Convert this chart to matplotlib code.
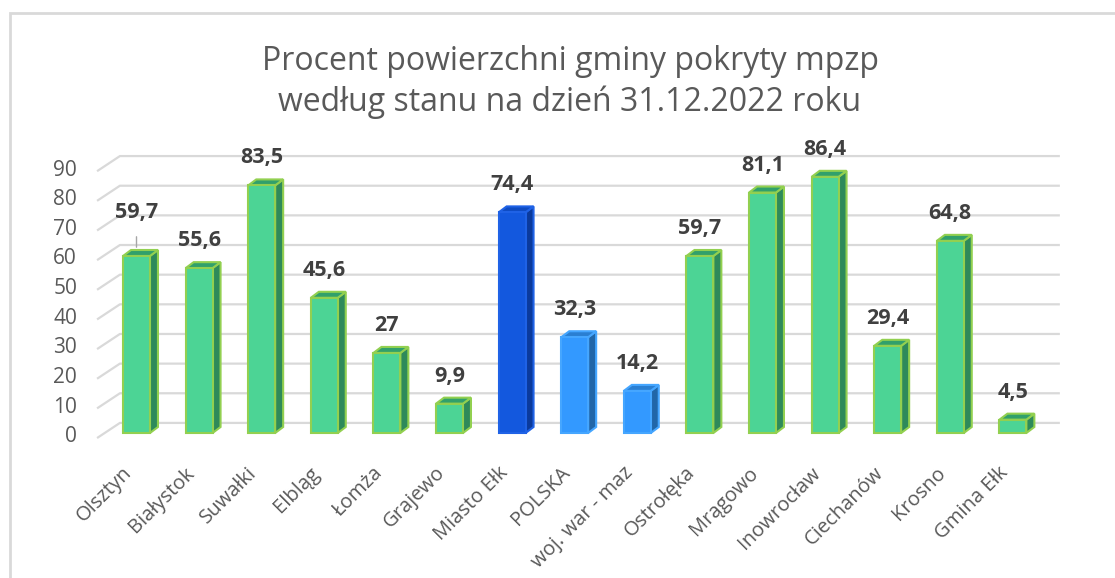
import matplotlib.pyplot as plt
from matplotlib.patches import Rectangle, Polygon

plt.rcParams['font.family'] = ['Open Sans', 'DejaVu Sans']

# Data
categories = ['Olsztyn', 'Białystok', 'Suwałki', 'Elbląg', 'Łomża', 'Grajewo',
              'Miasto Ełk', 'POLSKA', 'woj. war - maz', 'Ostrołęka', 'Mrągowo',
              'Inowrocław', 'Ciechanów', 'Krosno', 'Gmina Ełk']
values = [59.7, 55.6, 83.5, 45.6, 27, 9.9, 74.4, 32.3, 14.2, 59.7, 81.1,
          86.4, 29.4, 64.8, 4.5]
value_labels = ['59,7', '55,6', '83,5', '45,6', '27', '9,9', '74,4', '32,3',
                '14,2', '59,7', '81,1', '86,4', '29,4', '64,8', '4,5']
yticks = [0, 10, 20, 30, 40, 50, 60, 70, 80, 90]
title = 'Procent powierzchni gminy pokryty mpzp\nwedług stanu na dzień 31.12.2022 roku'

# colour per bar: (front, side, top, edge)
green = ('#4CD495', '#2E8A5A', '#31A06B', '#92D050')
dark_blue = ('#1358DE', '#0B3A9C', '#0E4BC2', '#1F62E6')
light_blue = ('#3399FF', '#2166A8', '#2A7FD2', '#45A6FF')
styles = [green] * 6 + [dark_blue, light_blue, light_blue] + [green] * 6

# layout in pixels (figure is 1115 x 578)
W, H = 1115, 578
x0_px, step_px = 136.5, 62.6     # centre of first bar, spacing
y0_px, unit_px = 433.0, 2.965    # base of bars, pixels per 1 %
xlim = (-1.3, 14.95)
ylim = (-12, 96)

fig = plt.figure(figsize=(W / 100, H / 100), dpi=100)
left = (x0_px + step_px * xlim[0]) / W
right = (x0_px + step_px * xlim[1]) / W
bottom = 1 - (y0_px - unit_px * ylim[0]) / H
top = 1 - (y0_px - unit_px * ylim[1]) / H
ax = fig.add_axes([left, bottom, right - left, top - bottom])
ax.set_xlim(*xlim)
ax.set_ylim(*ylim)
ax.axis('off')

# outer frame
fig.patches.append(Rectangle((10 / W, -0.1), 1.2, 1 - 13 / H + 0.1,
                             transform=fig.transFigure, fill=False,
                             edgecolor='#D9D9D9', linewidth=2))

# back wall grid with slanted floor edge
front_off, back_off = -1.7, 3.4
gx = [-0.63, -0.265, 14.75]
for v in yticks:
    ax.plot(gx, [v + front_off, v + back_off, v + back_off],
            color='#D9D9D9', linewidth=1.6, zorder=1, solid_capstyle='butt')
    ax.text(-0.95, v - 1.3, str(v), ha='right', va='center',
            fontsize=15, color='#595959')

# pseudo 3D bars
bw = 0.215
dx, dy = 8 / step_px, 6 / unit_px
for i, (v, st) in enumerate(zip(values, styles)):
    front, side, topc, edge = st
    r = i + bw
    l = i - bw
    ax.add_patch(Polygon([(r, 0), (r + dx, dy), (r + dx, v + dy), (r, v)],
                         facecolor=side, edgecolor=edge, linewidth=1.5, zorder=3))
    ax.add_patch(Polygon([(l, v), (l + dx, v + dy), (r + dx, v + dy), (r, v)],
                         facecolor=topc, edgecolor=edge, linewidth=1.5, zorder=3))
    ax.add_patch(Rectangle((l, 0), 2 * bw, v, facecolor=front,
                           edgecolor=edge, linewidth=1.5, zorder=4))

# value labels
for i, (v, lab) in enumerate(zip(values, value_labels)):
    off = 11
    if i == 0:
        off = 27
        ax.annotate('', xy=(i, v + dy), xytext=(i, v + dy + 16 / unit_px),
                    arrowprops=dict(arrowstyle='-', color='#A6A6A6', lw=1))
    ax.annotate(lab, xy=(i, v + dy), xytext=(0, off), textcoords='offset pixels',
                ha='center', va='bottom', fontsize=15.5, fontweight='bold',
                color='#404040', zorder=5)

# category labels
for i, c in enumerate(categories):
    ax.text(i - 0.12, -12.5, c, rotation=45, rotation_mode='anchor',
            ha='right', va='center', fontsize=14.5, color='#595959')

fig.text(570 / W, 1 - 82 / H, title, ha='center', va='center',
         fontsize=23, color='#595959', linespacing=1.3)

fig.savefig('out.png', dpi=100)
